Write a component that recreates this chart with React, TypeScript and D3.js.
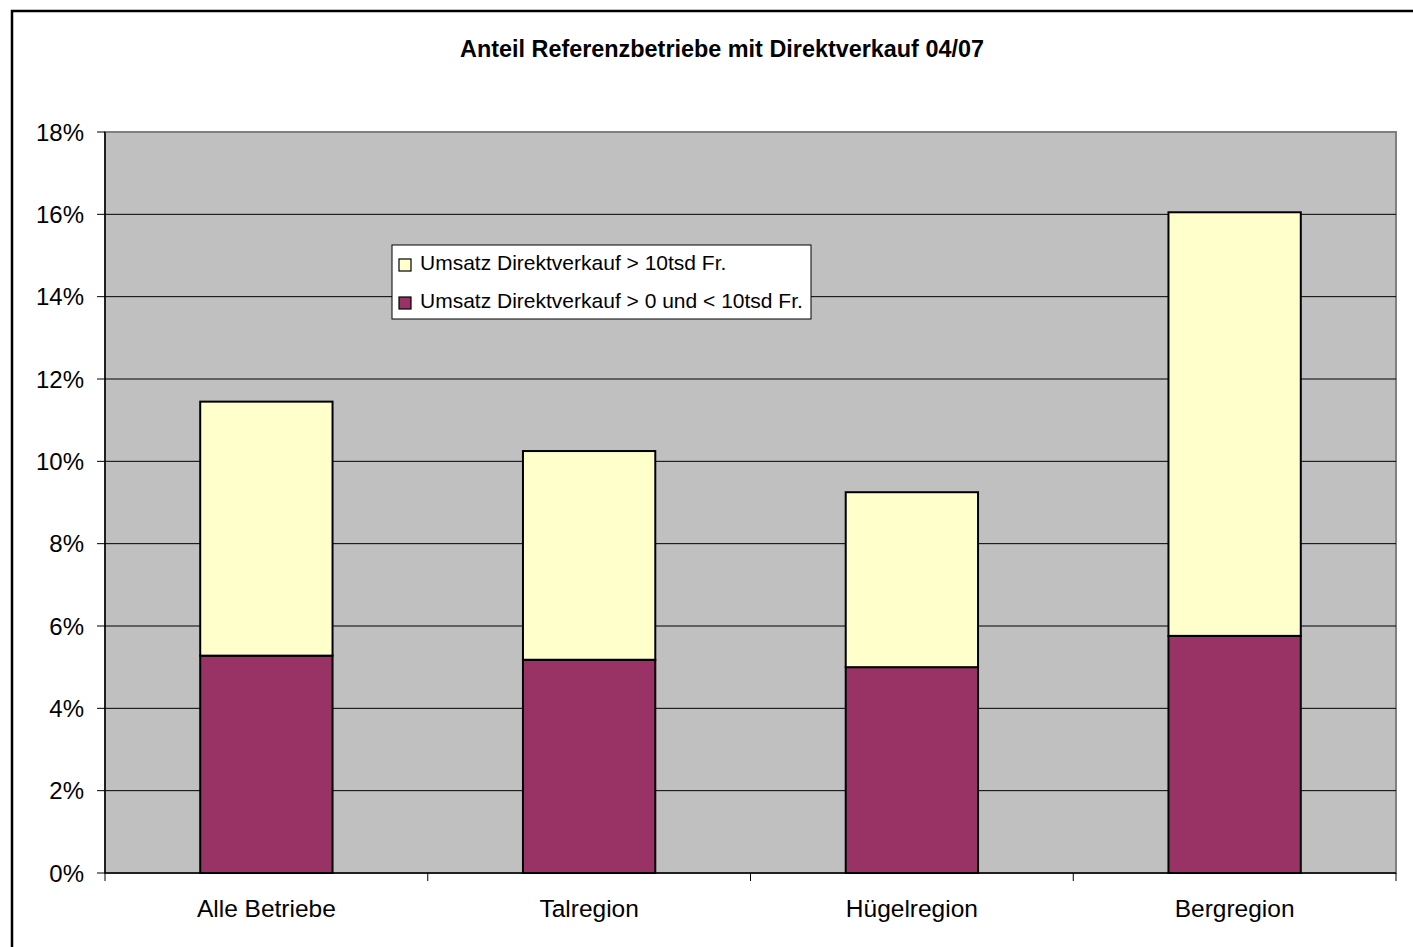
import React from "react";
import * as d3 from "d3";

const categories = ["Alle Betriebe", "Talregion", "Hügelregion", "Bergregion"];
const lowSeries = [5.28, 5.18, 5.0, 5.76];
const highSeries = [6.17, 5.07, 4.25, 10.29];
const seriesNames = ["Umsatz Direktverkauf > 10tsd Fr.", "Umsatz Direktverkauf > 0 und < 10tsd Fr."];
const yTicks = [0, 2, 4, 6, 8, 10, 12, 14, 16, 18];
const title = "Anteil Referenzbetriebe mit Direktverkauf 04/07";

const W = 1413, H = 947;
const plot = { left: 105, right: 1396, top: 132, bottom: 873 };
const font = "'Liberation Sans', Arial, sans-serif";
const colLow = "#993366";
const colHigh = "#FFFFCC";

export default function App() {
  const x = d3.scaleBand<string>().domain(categories).range([plot.left, plot.right]).paddingInner(0.59).paddingOuter(0.295);
  const y = d3.scaleLinear().domain([0, 18]).range([plot.bottom, plot.top]);
  const stackData = categories.map((c, i) => ({ cat: c, low: lowSeries[i], high: highSeries[i] }));
  const stack = d3.stack<any>().keys(["low", "high"])(stackData);
  const bandStep = (plot.right - plot.left) / categories.length;
  return (
    <svg width={W} height={H} style={{ position: "absolute", left: 0, top: 0, display: "block" }}>
      <rect x={0} y={0} width={W} height={H} fill="#fff" />
      <rect x={12} y={11} width={W + 20} height={H + 20} fill="#fff" stroke="#000" strokeWidth={2.5} />
      <text x={722} y={57} textAnchor="middle" fontFamily={font} fontWeight="bold" fontSize={23.4} fill="#000">{title}</text>
      <rect x={plot.left} y={plot.top} width={plot.right - plot.left} height={plot.bottom - plot.top} fill="#C0C0C0" stroke="#808080" strokeWidth={2} />
      {yTicks.filter(t => t > 0 && t < 18).map(t => (
        <line key={t} x1={plot.left} x2={plot.right} y1={y(t)} y2={y(t)} stroke="#000" strokeWidth={1} />
      ))}
      {stack.map((layer, li) => layer.map((d, i) => (
        <rect key={`${li}-${i}`} x={x(categories[i])!} y={y(d[1])} width={x.bandwidth()} height={y(d[0]) - y(d[1])}
          fill={li === 0 ? colLow : colHigh} stroke="#000" strokeWidth={2} />
      )))}
      {/* y axis */}
      <line x1={plot.left} x2={plot.left} y1={plot.top} y2={plot.bottom} stroke="#000" strokeWidth={1.5} />
      {yTicks.map(t => (
        <g key={t}>
          <line x1={plot.left - 8} x2={plot.left} y1={y(t)} y2={y(t)} stroke="#000" strokeWidth={1} />
          <text x={plot.left - 21} y={y(t) + 8.5} textAnchor="end" fontFamily={font} fontSize={24} fill="#000">{t}%</text>
        </g>
      ))}
      {/* x axis */}
      <line x1={plot.left} x2={plot.right} y1={plot.bottom} y2={plot.bottom} stroke="#000" strokeWidth={1.5} />
      {d3.range(categories.length + 1).map(i => (
        <line key={i} x1={plot.left + i * bandStep} x2={plot.left + i * bandStep} y1={plot.bottom} y2={plot.bottom + 8} stroke="#000" strokeWidth={1} />
      ))}
      {categories.map(c => (
        <text key={c} x={x(c)! + x.bandwidth() / 2} y={917} textAnchor="middle" fontFamily={font} fontSize={24.5} fill="#000">{c}</text>
      ))}
      {/* legend */}
      <rect x={392} y={245} width={419} height={74} fill="#fff" stroke="#000" strokeWidth={1} />
      {seriesNames.map((s, i) => (
        <g key={s}>
          <rect x={399} y={259 + i * 38} width={12} height={12} fill={i === 0 ? colHigh : colLow} stroke="#000" strokeWidth={1.2} />
          <text x={420} y={270 + i * 37.5} fontFamily={font} fontSize={21} fill="#000">{s}</text>
        </g>
      ))}
    </svg>
  );
}
